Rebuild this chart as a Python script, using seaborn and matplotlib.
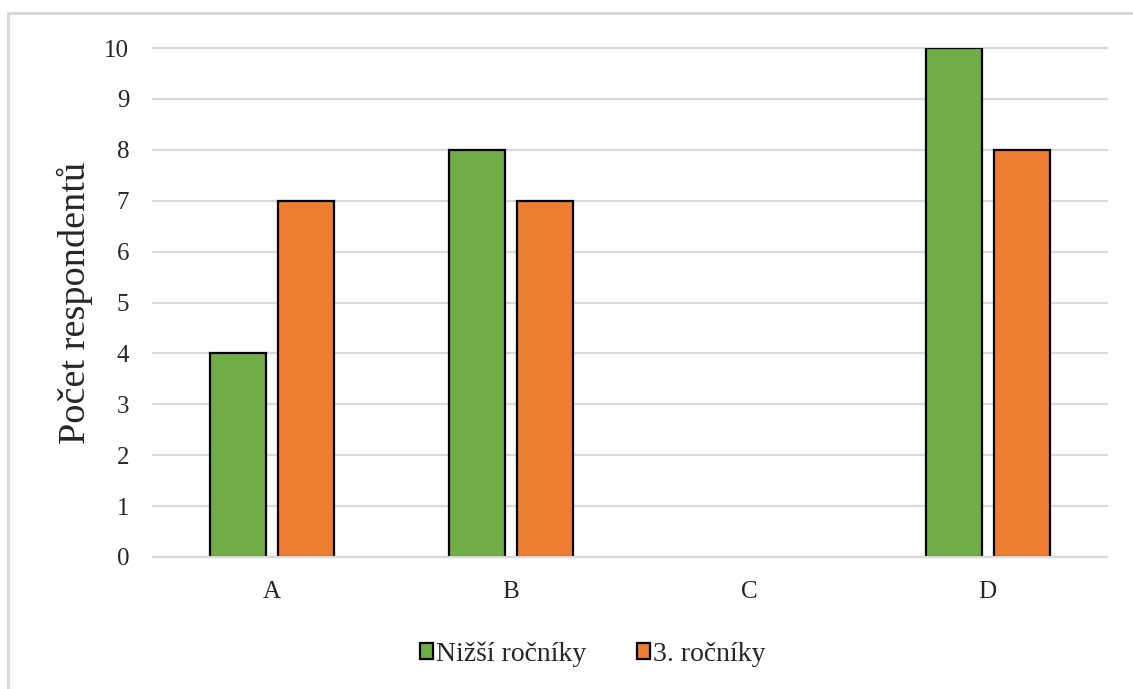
import matplotlib
matplotlib.use("Agg")
import matplotlib.pyplot as plt
from matplotlib.patches import Rectangle
import seaborn as sns
import pandas as pd

categories = ["A", "B", "C", "D"]
nizsi_rocniky = [4, 8, 0, 10]
treti_rocniky = [7, 7, 0, 8]
series_names = ["Nižší ročníky", "3. ročníky"]
y_ticks = list(range(0, 11))

df = pd.DataFrame({
    "kategorie": categories * 2,
    "pocet": nizsi_rocniky + treti_rocniky,
    "skupina": [series_names[0]] * len(categories) + [series_names[1]] * len(categories),
})

sns.set_theme(style="white")
plt.rcParams["font.family"] = ["Liberation Serif", "DejaVu Serif"]

fig = plt.figure(figsize=(11.33, 6.89), dpi=100)
ax = fig.add_axes([0.135, 0.1916, 0.842, 0.7387])

# outer chart frame
fig.patches.append(Rectangle((8 / 1133, -0.05), 1.2, 1 - 13 / 689 + 0.05,
                             transform=fig.transFigure, fill=False,
                             edgecolor="#d9d9d9", linewidth=2.2, zorder=0))

palette = {series_names[0]: "#70ad47", series_names[1]: "#ed7d31"}
sns.barplot(data=df, x="kategorie", y="pocet", hue="skupina", order=categories,
            hue_order=series_names, palette=palette, width=0.572, gap=0.18,
            edgecolor="black", linewidth=1.6, saturation=1, ax=ax, legend=False)

# hide zero-height bars so no outline is drawn on the axis
for cont in ax.containers:
    for p in cont.patches:
        if p.get_height() == 0:
            p.set_visible(False)

ax.set_ylim(0, 10)
ax.set_yticks(y_ticks)
ax.set_yticklabels([str(t) for t in y_ticks])
ax.yaxis.grid(True, color="#d9d9d9", linewidth=1.6)
for gl in ax.get_ygridlines():
    gl.set_clip_on(False)
ax.set_axisbelow(True)
for s in ["top", "right", "left"]:
    ax.spines[s].set_visible(False)
ax.spines["bottom"].set_color("#d9d9d9")
ax.spines["bottom"].set_linewidth(1.6)
ax.tick_params(axis="both", length=0, labelsize=18, colors="#262626")
ax.tick_params(axis="y", pad=17)
ax.tick_params(axis="x", pad=17)
ax.set_xlabel("")
ax.set_ylabel("Počet respondentů", fontsize=27.5, color="#262626", labelpad=8)

handles = [Rectangle((0, 0), 1, 1, facecolor=palette[n], edgecolor="black", linewidth=1.6)
           for n in series_names]
ax.legend(handles, series_names, loc="upper center", bbox_to_anchor=(0.461, -0.117),
          ncol=2, frameon=False, fontsize=20, handlelength=0.48, handleheight=0.48,
          handletextpad=0.12, columnspacing=1.8, labelcolor="#262626")

fig.savefig("out.png", dpi=100)
